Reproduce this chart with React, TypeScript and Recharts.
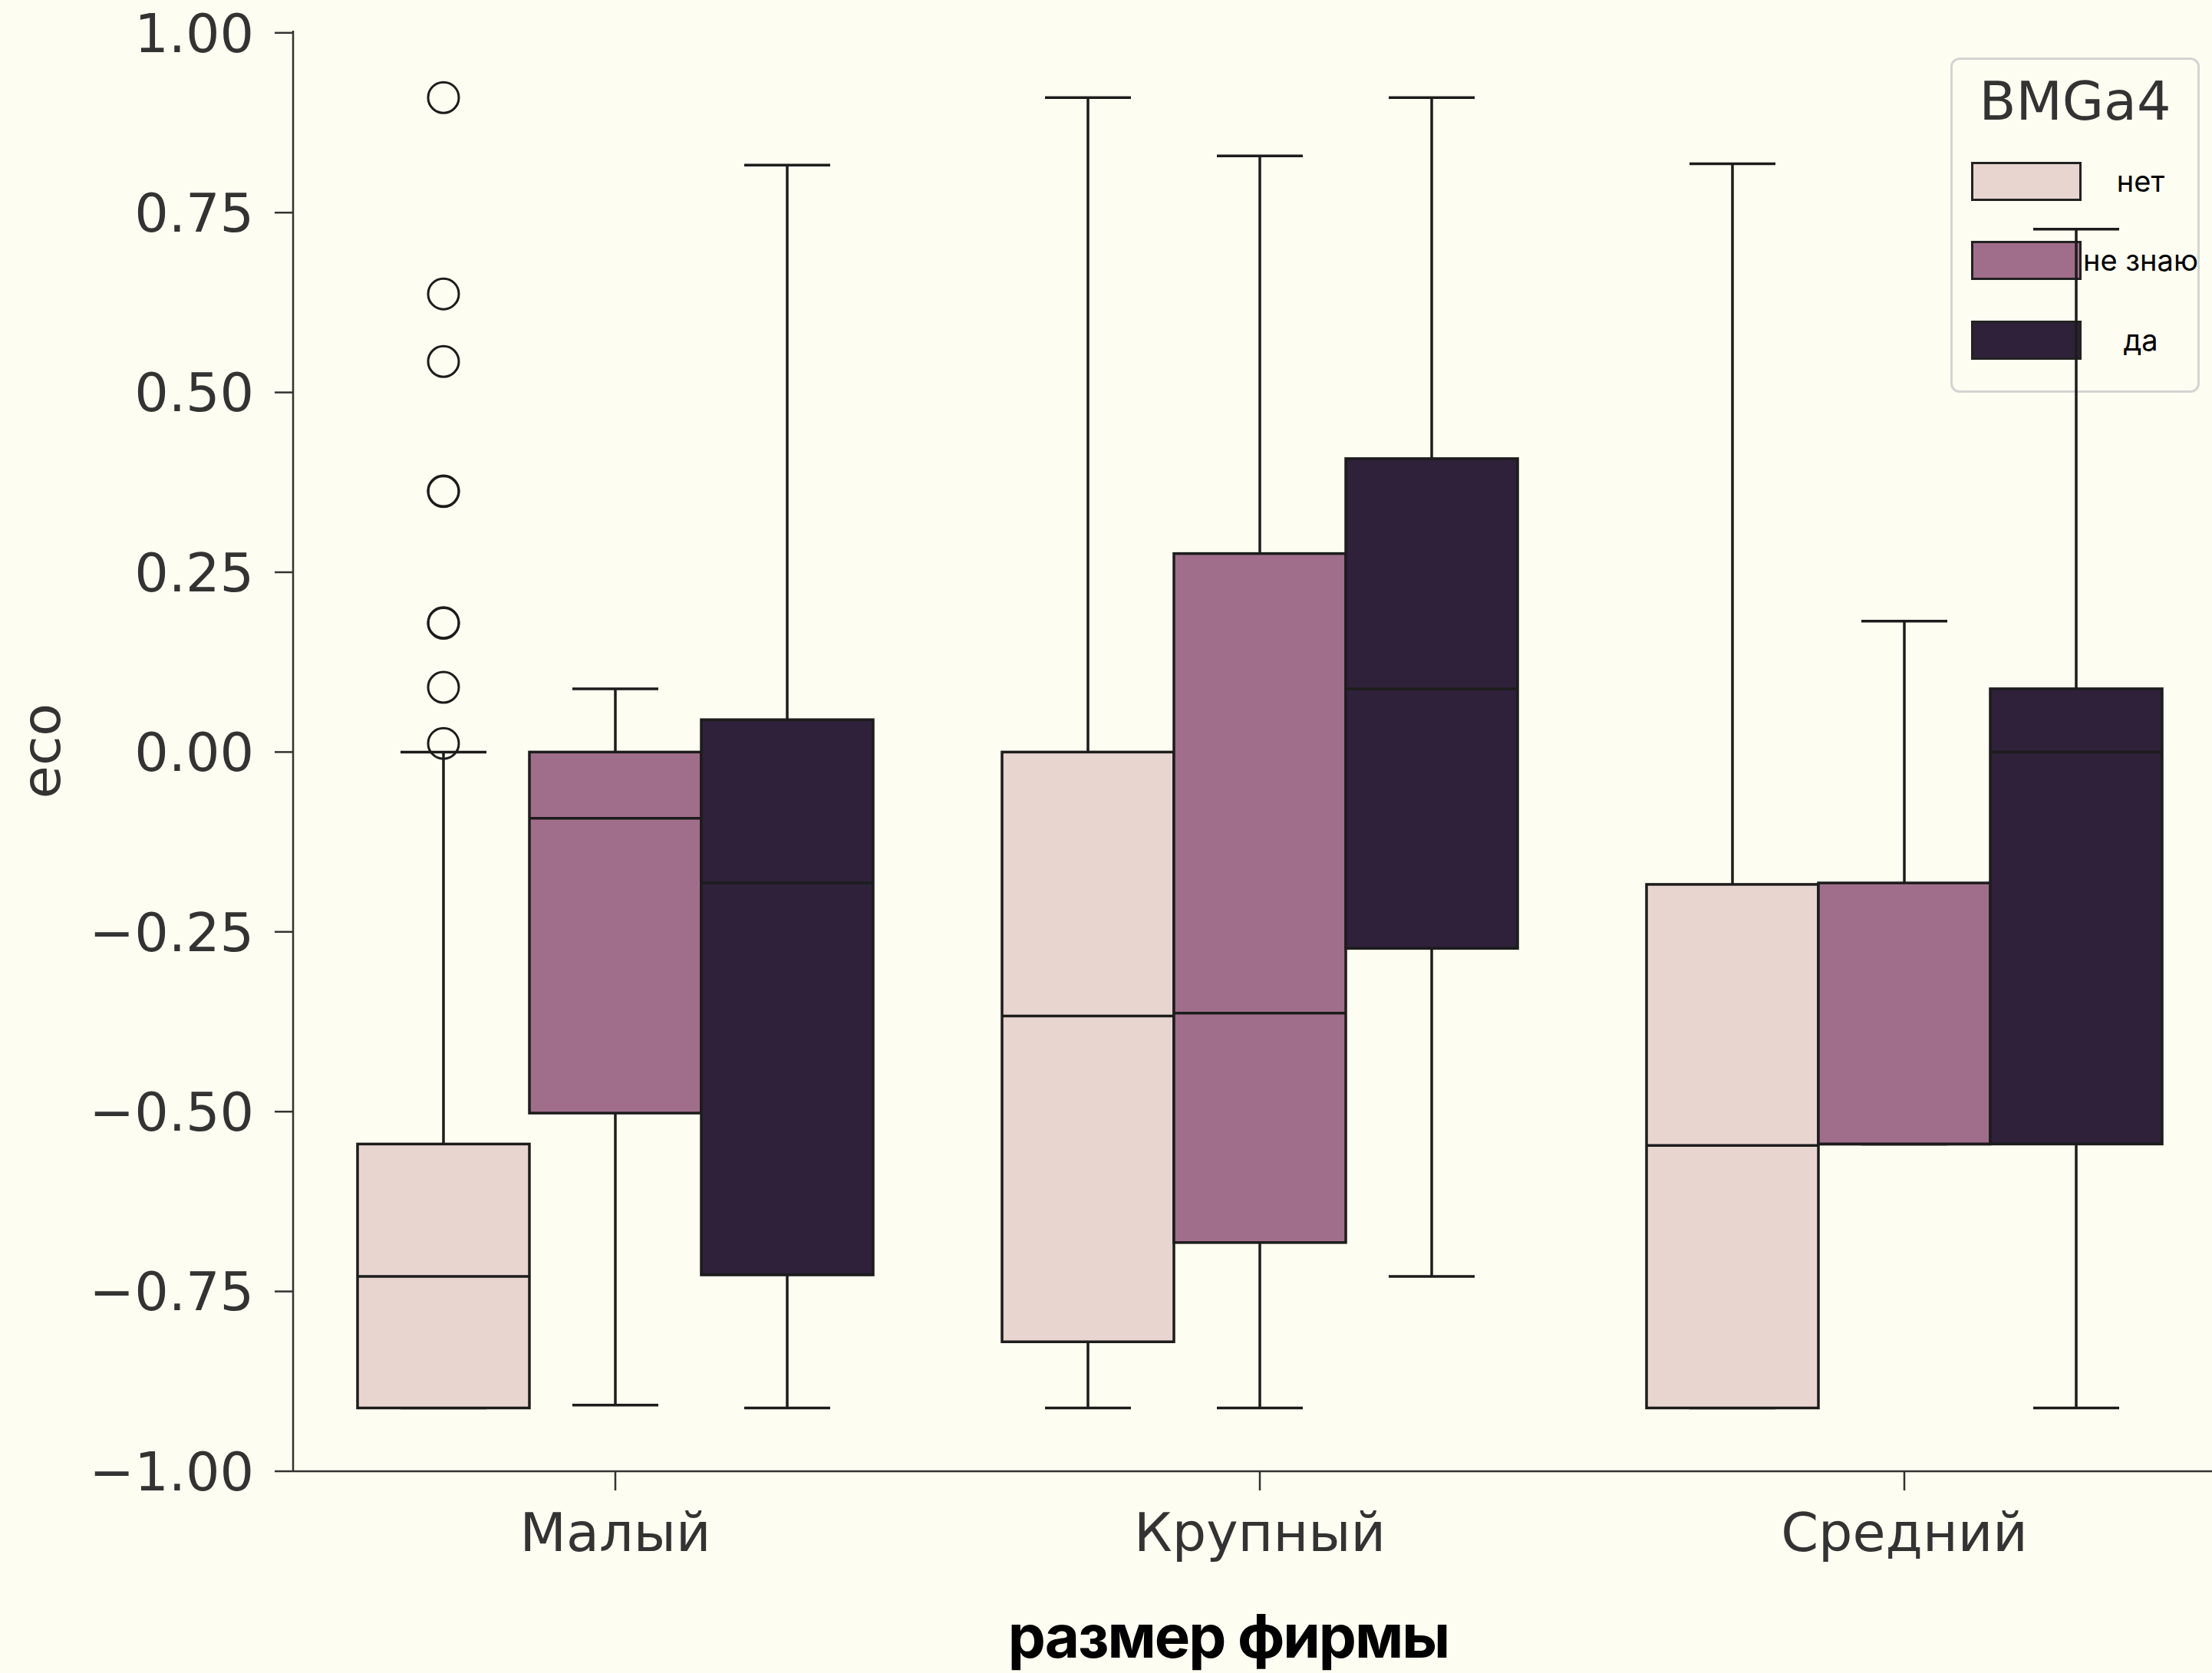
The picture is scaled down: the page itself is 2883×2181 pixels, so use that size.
import React from 'react';
import { BarChart, Bar, XAxis, YAxis } from 'recharts';

const categories = ['Малый', 'Крупный', 'Средний'];
const hues = ['нет', 'не знаю', 'да'];
const hueColors = ['#e8d5d0', '#a06e8b', '#2e2139'];

// [lower whisker, Q1, median, Q3, upper whisker] for each category
const netStats = [
  [-0.912, -0.912, -0.729, -0.545, 0.0],
  [-0.912, -0.82, -0.367, 0.0, 0.91],
  [-0.912, -0.912, -0.547, -0.184, 0.818],
];
const neZnayuStats = [
  [-0.908, -0.502, -0.092, 0.0, 0.088],
  [-0.912, -0.682, -0.363, 0.276, 0.829],
  [-0.545, -0.545, -0.545, -0.182, 0.182],
];
const daStats = [
  [-0.912, -0.727, -0.182, 0.045, 0.816],
  [-0.729, -0.273, 0.088, 0.408, 0.91],
  [-0.912, -0.545, 0.0, 0.088, 0.727],
];
const netOutliers = [[0.012, 0.09, 0.18, 0.18, 0.363, 0.363, 0.543, 0.637, 0.91], [], []];
const yTicks = [-1, -0.75, -0.5, -0.25, 0, 0.25, 0.5, 0.75, 1];

const statsByHue = [netStats, neZnayuStats, daStats];
const outliersByHue = [netOutliers, [[], [], []], [[], [], []]];

const rows = categories.map((category, i) => {
  const row: any = { category };
  statsByHue.forEach((s, h) => {
    row['range' + h] = [s[i][0], s[i][4]];
    row['stats' + h] = s[i];
    row['out' + h] = outliersByHue[h][i];
  });
  return row;
});

const EDGE = '#1c1c1c';
const AXIS = '#333333';

function BoxShape(props: any) {
  const { x, y, width, height, payload, hue } = props;
  const [lo, q1, med, q3, hi] = payload['stats' + hue];
  const outs: number[] = payload['out' + hue];
  const toY = (v: number) => y + (height * (hi - v)) / (hi - lo);
  const cx = x + width / 2;
  const cap = width / 4;
  const sw = 3.5;
  return (
    <g>
      <line x1={cx} x2={cx} y1={toY(hi)} y2={toY(q3)} stroke={EDGE} strokeWidth={sw} />
      <line x1={cx} x2={cx} y1={toY(q1)} y2={toY(lo)} stroke={EDGE} strokeWidth={sw} />
      <line x1={cx - cap} x2={cx + cap} y1={toY(hi)} y2={toY(hi)} stroke={EDGE} strokeWidth={sw} />
      <line x1={cx - cap} x2={cx + cap} y1={toY(lo)} y2={toY(lo)} stroke={EDGE} strokeWidth={sw} />
      <rect
        x={x}
        y={toY(q3)}
        width={width}
        height={toY(q1) - toY(q3)}
        fill={hueColors[hue]}
        stroke={EDGE}
        strokeWidth={sw}
      />
      <line x1={x} x2={x + width} y1={toY(med)} y2={toY(med)} stroke={EDGE} strokeWidth={sw} />
      {outs.map((v, k) => (
        <circle key={k} cx={cx} cy={toY(v) + (k > 0 && outs[k - 1] === v ? 0.8 : 0)} r={20} fill="none" stroke={EDGE} strokeWidth={3} />
      ))}
    </g>
  );
}

const fmt = (v: number) => (v < 0 ? '\u2212' : '') + Math.abs(v).toFixed(2);

function LegendBox() {
  const rowTops = [211, 314, 418];
  return (
    <div
      style={{
        position: 'absolute',
        left: 2542,
        top: 75,
        width: 319,
        height: 431,
        border: '3px solid #d4d4d4',
        borderRadius: 12,
        background: 'rgba(253,253,241,0.8)',
        zIndex: 0,
      }}
    >
      <div
        style={{
          position: 'absolute',
          left: 0,
          width: '100%',
          top: 14,
          textAlign: 'center',
          fontFamily: 'DejaVu Sans',
          fontSize: 70,
          color: AXIS,
          lineHeight: '80px',
        }}
      >
        BMGa4
      </div>
      {hues.map((h, i) => (
        <React.Fragment key={h}>
          <div
            style={{
              position: 'absolute',
              left: 24,
              top: rowTops[i] - 78,
              width: 138,
              height: 45,
              background: hueColors[i],
              border: '3px solid #222',
            }}
          />
          <div
            style={{
              position: 'absolute',
              left: 170,
              width: 150,
              top: rowTops[i] - 78,
              height: 51,
              lineHeight: '51px',
              textAlign: 'center',
              fontFamily: 'Inter',
              fontSize: 38,
              color: '#000',
            }}
          >
            {h}
          </div>
        </React.Fragment>
      ))}
    </div>
  );
}

export default function App() {
  return (
    <div
      style={{
        position: 'absolute',
        left: 0,
        top: 0,
        width: 2883,
        height: 2181,
        overflow: 'hidden',
        background: '#fdfdf1',
        zIndex: 0,
      }}
    >
      <LegendBox />
      <div style={{ position: 'absolute', left: 0, top: 0, zIndex: 1 }}>
        <BarChart
          width={2910}
          height={2181}
          data={rows}
          margin={{ top: 40, right: 8, bottom: 0, left: 82 }}
          barCategoryGap="10%"
          barGap={0}
        >
          <XAxis
            dataKey="category"
            height={263}
            tickSize={25}
            tickMargin={29}
            tickLine={{ stroke: AXIS, strokeWidth: 2.5 }}
            axisLine={{ stroke: AXIS, strokeWidth: 2.5 }}
            tick={{ fill: AXIS, fontSize: 70, fontFamily: 'DejaVu Sans' }}
            label={{
              content: ({ viewBox }: any) => (
                <text
                  x={viewBox.x + viewBox.width / 2 - 41}
                  y={viewBox.y + 243}
                  textAnchor="middle"
                  fontFamily="Inter"
                  fontWeight={700}
                  fontSize={78}
                  letterSpacing={-2}
                  fill="#000"
                >
                  размер фирмы
                </text>
              ),
            }}
          />
          <XAxis
            xAxisId="top"
            orientation="top"
            dataKey="category"
            height={0}
            tick={false}
            tickLine={false}
            axisLine={{ stroke: AXIS, strokeWidth: 2.5 }}
          />
          <YAxis
            width={300}
            domain={[-1, 1.003]}
            ticks={yTicks}
            allowDataOverflow
            tickFormatter={fmt}
            tickSize={24}
            tickMargin={27}
            tickLine={{ stroke: AXIS, strokeWidth: 2.5 }}
            axisLine={{ stroke: AXIS, strokeWidth: 2.5 }}
            tick={{ fill: AXIS, fontSize: 70, fontFamily: 'DejaVu Sans' }}
            label={{
              content: ({ viewBox }: any) => {
                const cx = viewBox.x - 28;
                const cy = viewBox.y + viewBox.height / 2;
                return (
                  <text
                    x={cx}
                    y={cy}
                    transform={`rotate(-90 ${cx} ${cy})`}
                    textAnchor="middle"
                    dominantBaseline="central"
                    fontFamily="DejaVu Sans"
                    fontSize={70}
                    fill={AXIS}
                  >
                    eco
                  </text>
                );
              },
            }}
          />
          {hues.map((h, i) => (
            <Bar
              key={h}
              dataKey={'range' + i}
              name={h}
              isAnimationActive={false}
              shape={(p: any) => <BoxShape {...p} hue={i} />}
            />
          ))}
        </BarChart>
      </div>
    </div>
  );
}
